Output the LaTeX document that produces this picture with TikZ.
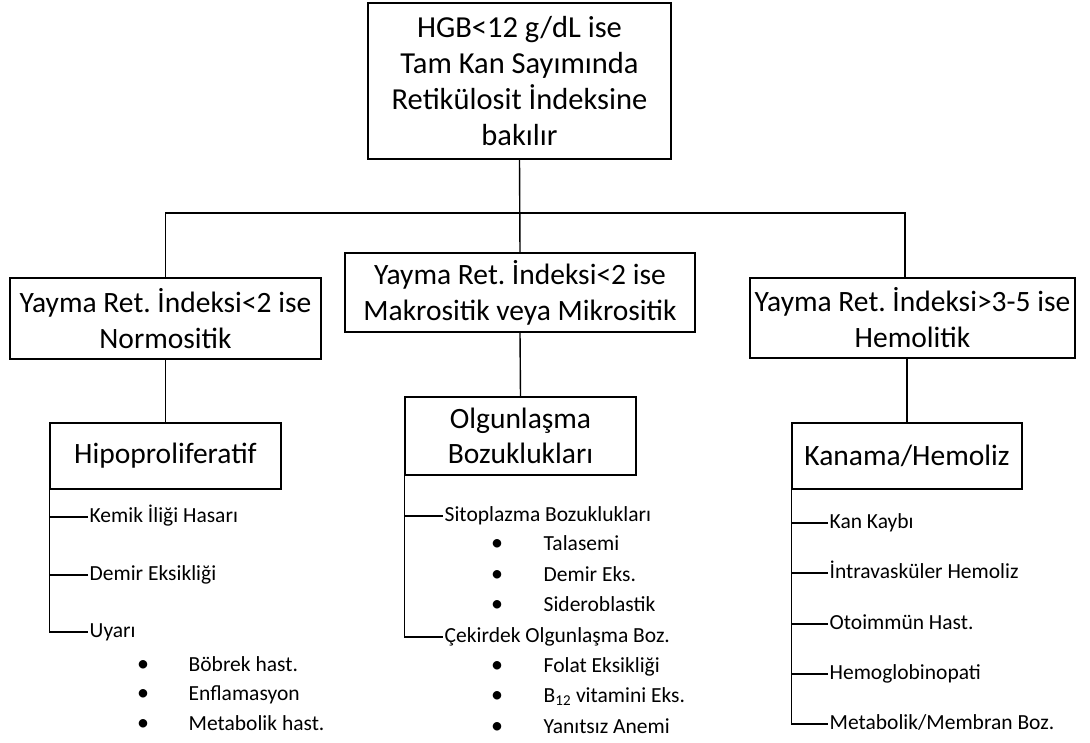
\documentclass[tikz,border=0pt]{standalone}
\usepackage{fontspec}
\setmainfont{Carlito}
\frenchspacing
\tikzset{every picture/.style={line width=1.4pt}}
\tikzset{
  box/.style={draw, line width=1.6pt, align=center, inner sep=0pt, font=\fontsize{29.5}{36}\selectfont},
  item/.style={anchor=west, inner sep=1pt, text height=15pt, text depth=5pt, font=\fontsize{21.5}{25}\selectfont},
  dot/.style={inner sep=0pt, font=\fontsize{24}{25}\selectfont},
}
\begin{document}
\begin{tikzpicture}[x=1pt,y=1pt,yscale=-1,xscale=1]
	\useasboundingbox (0,0) rectangle (1090,742);

	% boxes
	\node [box, minimum width=303, minimum height=156, font=\fontsize{30.5}{36}\selectfont] (top) at (519.5,81) {HGB<12 g/dL ise\\Tam Kan Sayımında\\Retikülosit İndeksine\\bakılır};
	\node [box, minimum width=311, minimum height=81] (normo) at (165.5,318.5) {Yayma Ret. İndeksi<2 ise\\Normositik};
	\node [box, minimum width=350, minimum height=79] (makro) at (520,292.5) {Yayma Ret. İndeksi<2 ise\\Makrositik veya Mikrositik};
	\node [box, minimum width=325, minimum height=80] (hemo) at (912.5,318) {Yayma Ret. İndeksi>3-5 ise\\Hemolitik};
	\node [box, minimum width=231, minimum height=66] (hipo) at (165.5,456) {Hipoproliferatif};
	\node [box, minimum width=231, minimum height=78, font=\fontsize{29.5}{35}\selectfont] (olg) at (520.5,436) {Olgunlaşma\\Bozuklukları};
	\node [box, minimum width=230, minimum height=66] (kan) at (907,456) {Kanama/Hemoliz};

	% upper connectors
	\coordinate (rjoin) at (905,213);
	\draw (top.south) -- (makro.north);
	\draw (normo.north) |- (rjoin) -- (rjoin |- hemo.north);
	\draw (normo.south) -- (hipo.north);
	\draw (makro.south) -- (olg.north);
	\draw (kan.north |- hemo.south) -- (kan.north);

	% Hipoproliferatif
	\node [item] (kemik) at (88,517) {Kemik İliği Hasarı};
	\node [item] (demir) at (88,575) {Demir Eksikliği};
	\node [item] (uyari) at (88,632) {Uyarı};
	\draw (hipo.south west) |- (uyari.west);
	\foreach \n in {kemik,demir} \draw (\n.west) -- (\n.west -| hipo.west);
	\foreach \t/\y [count=\i] in {Böbrek hast./666, Enflamasyon/695.5, Metabolik hast./725}
	{
		\node [dot] (ub\i) at (143,\y) {\textbullet};
		\node [item] (ut\i) at (187,\y) {\t};
	}

	% Olgunlasma
	\node [item] (sito) at (443,516) {Sitoplazma Bozuklukları};
	\node [item] (cek) at (443,637) {Çekirdek Olgunlaşma Boz.};
	\draw (olg.south west) |- (cek.west);
	\draw (sito.west) -- (sito.west -| olg.west);
	\foreach \t/\y [count=\i] in {Talasemi/545.5, Demir Eks./576, Sideroblastik/606.5}
	{
		\node [dot] (sb\i) at (497,\y) {\textbullet};
		\node [item] (st\i) at (542,\y) {\t};
	}
	\foreach \t/\y [count=\i] in {Folat Eksikliği/667, B\textsubscript{12} vitamini Eks./697.5, Yanıtsız Anemi/728}
	{
		\node [dot] (cb\i) at (497,\y) {\textbullet};
		\node [item] (ct\i) at (542,\y) {\t};
	}

	% Kanama
	\foreach \t/\y [count=\i] in {Kan Kaybı/523, İntravasküler Hemoliz/573, Otoimmün Hast./624, Hemoglobinopati/674}
	{
		\node [item] (k\i) at (828,\y) {\t};
		\draw (k\i.west) -- (k\i.west -| kan.west);
	}
	\node [item] (k5) at (828,724) {Metabolik/Membran Boz.};
	\draw (kan.south west) |- (k5.west);
\end{tikzpicture}
\end{document}
